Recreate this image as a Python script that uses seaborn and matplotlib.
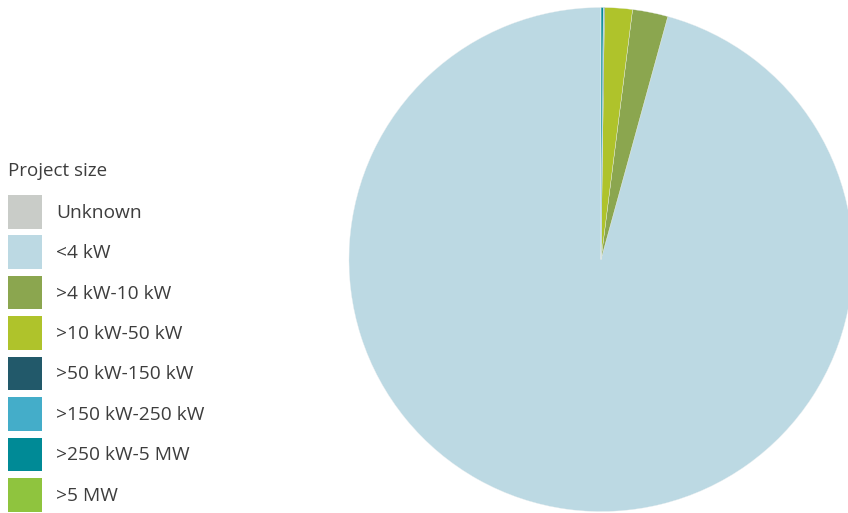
import matplotlib
matplotlib.use("Agg")
import matplotlib.pyplot as plt
from matplotlib.patches import Rectangle
import seaborn as sns

categories = ["Unknown", "<4 kW", ">4 kW-10 kW", ">10 kW-50 kW", ">50 kW-150 kW",
              ">150 kW-250 kW", ">250 kW-5 MW", ">5 MW"]
shares = [0.01, 95.72, 2.27, 1.78, 0.05, 0.03, 0.14, 0.0]
colors = ["#c9ccc8", "#bcd9e3", "#8ba64f", "#afc32b", "#22596a", "#44adc9", "#008a96", "#8fc43e"]
legend_title = "Project size"

sns.set_theme(style="white")
plt.rcParams["font.family"] = ["Open Sans", "DejaVu Sans"]

W, H = 848, 513
fig = plt.figure(figsize=(W / 100, H / 100), dpi=100)

# Pie
cx, cy, r = 601, 259.5, 252
ax = fig.add_axes([(cx - r) / W, (H - cy - r) / H, 2 * r / W, 2 * r / H])
ax.pie(shares, colors=colors, startangle=90, counterclock=True, radius=1,
       wedgeprops=dict(linewidth=0.25, edgecolor="#e8eef0"))
ax.set_xlim(-1, 1)
ax.set_ylim(-1, 1)
ax.set_axis_off()

# Legend drawn in a pixel-space overlay axes
lax = fig.add_axes([0, 0, 1, 1], zorder=3)
lax.set_xlim(0, W)
lax.set_ylim(H, 0)
lax.set_axis_off()
lax.patch.set_alpha(0)

text_color = "#3d3d3d"
lax.text(8, 176.5, legend_title, fontsize=13.5, color=text_color, ha="left", va="baseline")
x0, y0, size, step = 8, 195, 33.5, 40.43
for i, (lab, col) in enumerate(zip(categories, colors)):
    top = y0 + i * step
    lax.add_patch(Rectangle((x0, top), size, size, facecolor=col, edgecolor="none"))
    lax.text(56, top + size / 2 + 6, lab, fontsize=13.8, color=text_color,
             ha="left", va="baseline")

fig.savefig("out.png", dpi=100)
